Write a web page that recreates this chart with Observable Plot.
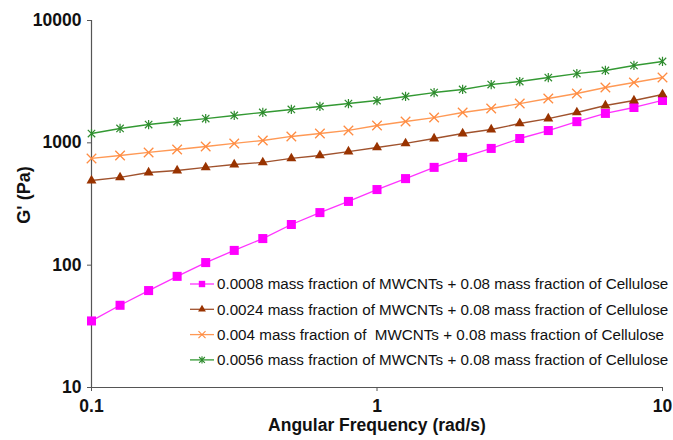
<!DOCTYPE html>
<html><head><meta charset="utf-8">
<script src="https://cdn.jsdelivr.net/npm/d3@7"></script>
<script src="https://cdn.jsdelivr.net/npm/@observablehq/plot@0.6"></script>
<style>
html,body{margin:0;padding:0;background:#fff;}
#chart{width:673px;height:440px;}
</style></head><body><div id="chart"></div>
<script>
// Angular frequency (rad/s)
const freq = [0.1, 0.1259, 0.1585, 0.1995, 0.2512, 0.3162, 0.3981, 0.5012, 0.631, 0.7943, 1, 1.259, 1.585, 1.995, 2.512, 3.162, 3.981, 5.012, 6.31, 7.943, 10];
const seriesNames = [
  "0.0008 mass fraction of MWCNTs + 0.08 mass fraction of Cellulose",
  "0.0024 mass fraction of MWCNTs + 0.08 mass fraction of Cellulose",
  "0.004 mass fraction of  MWCNTs + 0.08 mass fraction of Cellulose",
  "0.0056 mass fraction of MWCNTs + 0.08 mass fraction of Cellulose"
];
// G' (Pa)
const g0008 = [35, 47, 62, 81, 105, 132, 165, 215, 269, 332, 415, 510, 630, 760, 900, 1085, 1260, 1490, 1740, 1945, 2220];
const g0024 = [492, 521, 572, 594, 629, 665, 691, 745, 788, 849, 916, 988, 1085, 1192, 1285, 1439, 1580, 1770, 2019, 2218, 2484];
const g0040 = [745, 788, 834, 882, 933, 988, 1045, 1127, 1192, 1262, 1386, 1494, 1610, 1770, 1908, 2096, 2303, 2531, 2833, 3113, 3420];
const g0056 = [1192, 1310, 1412, 1494, 1580, 1673, 1770, 1873, 1982, 2096, 2218, 2392, 2578, 2729, 2997, 3172, 3420, 3686, 3902, 4287, 4623];
const xTicks = [0.1, 1, 10];
const yTicks = [10, 100, 1000, 10000];
const xTitle = "Angular Frequency (rad/s)";
const yTitle = "G' (Pa)";

const lineColors = ["#ff33ff", "#a0522d", "#ff9955", "#339933"];
const markColors = ["#ff00ff", "#993300", "#ff8c42", "#2e8b2e"];

const star = {
  draw(ctx, size) {
    const r = Math.sqrt(size / Math.PI);
    ctx.moveTo(-r, -r); ctx.lineTo(r, r);
    ctx.moveTo(-r, r); ctx.lineTo(r, -r);
    ctx.moveTo(0, -r * 1.25); ctx.lineTo(0, r * 1.25);
  }
};

const allSeries = [g0008, g0024, g0040, g0056];
const rows = [];
allSeries.forEach((vals, s) => vals.forEach((v, i) => rows.push({f: freq[i], g: v, s: seriesNames[s], k: s})));
const sub = k => rows.filter(d => d.k === k);

const font = "'Liberation Sans', Arial, Helvetica, sans-serif";
const dotOpts = [
  {symbol: "square", r: 5.1, fill: markColors[0]},
  {symbol: "triangle", r: 3.7, fill: markColors[1]},
  {symbol: "times", r: 4.4, fill: "none", stroke: markColors[2], strokeWidth: 1.3},
  {symbol: star, r: 3.7, fill: "none", stroke: markColors[3], strokeWidth: 1.2}
];

const marks = [
  Plot.ruleX([0.1], {stroke: "#555", strokeWidth: 1.2}),
  Plot.ruleY([10], {stroke: "#555", strokeWidth: 1.2}),
  Plot.axisX({ticks: xTicks, tickFormat: d => String(d), tickSize: 4, tickPadding: 8, fontSize: 17.5, fontWeight: "bold", label: null, stroke: "#555", fill: "#111"}),
  Plot.axisY({ticks: yTicks, tickFormat: d => String(d), tickSize: 4, tickPadding: 6, fontSize: 17.5, fontWeight: "bold", label: null, stroke: "#555", fill: "#111"}),
  Plot.text([xTitle], {text: d => d, frameAnchor: "bottom", dy: 43, fontSize: 17.5, fontWeight: "bold", fill: "#111"})
];
allSeries.forEach((_, k) => {
  marks.push(Plot.line(sub(k), {x: "f", y: "g", stroke: lineColors[k], strokeWidth: 1.3}));
  marks.push(Plot.dot(sub(k), {x: "f", y: "g", ...dotOpts[k]}));
});

const plot = Plot.plot({
  width: 673, height: 440,
  marginLeft: 91, marginRight: 11, marginTop: 20, marginBottom: 53,
  style: {fontFamily: font, background: "#fff", overflow: "visible"},
  x: {type: "log", domain: [0.1, 10]},
  y: {type: "log", domain: [10, 10000]},
  marks
});
document.getElementById("chart").appendChild(plot);

const svg = d3.select(plot);
// Y axis title
svg.append("text")
  .attr("transform", "translate(24,195) rotate(-90)")
  .attr("text-anchor", "middle").attr("dy", "0.35em")
  .attr("font-family", font).attr("font-size", 18).attr("font-weight", "bold")
  .attr("fill", "#111").text(yTitle);

// Legend (inside plot area)
const leg = svg.append("g").attr("font-family", font).attr("font-size", 15.2).attr("text-anchor", "start");
const legX0 = 190, legX1 = 214, legTextX = 217, legY0 = 284, legDy = 25.3;
seriesNames.forEach((name, k) => {
  const y = legY0 + k * legDy;
  const g = leg.append("g").attr("transform", `translate(0,${y})`);
  g.append("line").attr("x1", legX0).attr("x2", legX1).attr("stroke", lineColors[k]).attr("stroke-width", 1.3);
  const sym = [d3.symbolSquare, d3.symbolTriangle, d3.symbolTimes, star][k];
  const r = [3.6, 2.9, 3.3, 2.9][k];
  g.append("path").attr("transform", `translate(${(legX0 + legX1) / 2},0)`)
    .attr("d", d3.symbol(sym, Math.PI * r * r)())
    .attr("fill", k < 2 ? markColors[k] : "none")
    .attr("stroke", k < 2 ? "none" : markColors[k])
    .attr("stroke-width", 1.1);
  g.append("text").attr("x", legTextX).attr("dy", "0.35em").attr("text-anchor", "start").attr("fill", "#111").text(name);
});
</script>
</body></html>
